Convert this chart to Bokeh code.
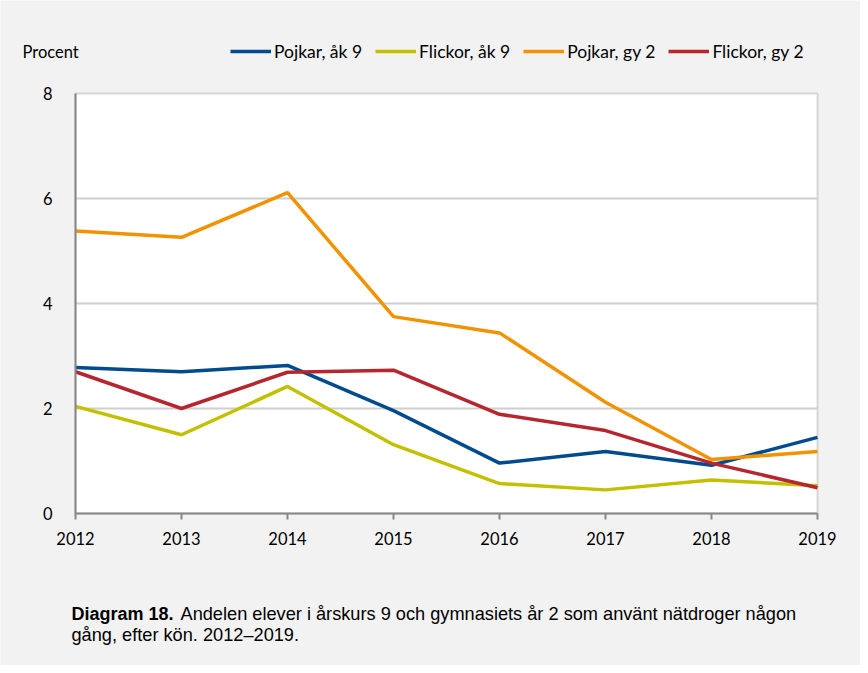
from bokeh.plotting import figure
from bokeh.models import (Legend, LegendItem, Label, FixedTicker, Range1d, BoxAnnotation,
                          Grid)
from bokeh.embed import file_html
from bokeh.resources import INLINE

years = [2012, 2013, 2014, 2015, 2016, 2017, 2018, 2019]
pojkar_ak9 = [2.78, 2.70, 2.82, 1.96, 0.96, 1.18, 0.92, 1.45]
flickor_ak9 = [2.04, 1.50, 2.42, 1.31, 0.57, 0.45, 0.64, 0.53]
pojkar_gy2 = [5.38, 5.26, 6.11, 3.75, 3.44, 2.12, 1.03, 1.18]
flickor_gy2 = [2.70, 2.00, 2.69, 2.73, 1.89, 1.58, 0.96, 0.49]
series_names = ["Pojkar, åk 9", "Flickor, åk 9", "Pojkar, gy 2", "Flickor, gy 2"]
colors = ["#004b8d", "#c3c000", "#f39200", "#b5262f"]
y_ticks = [0, 2, 4, 6, 8]
y_label = "Procent"
caption_bold = "Diagram 18."
caption_rest = "Andelen elever i årskurs 9 och gymnasiets år 2 som använt nätdroger någon"
caption_line2 = "gång, efter kön. 2012–2019."

# layout (pixels)
W, H = 860, 665
PL, PR, PT, PB = 75, 817, 93, 513      # plot-area box edges on the canvas
BG = "#f2f2f2"
FRAME_GREY = "#878787"
TICK_FONT = "Lato"
CAP_FONT = "Liberation Sans"

x0, x1 = years[0], years[-1]
y0, y1 = y_ticks[0], y_ticks[-1]
ppx = (PR - PL) / (x1 - x0)
ppy = (PB - PT) / (y1 - y0)

p = figure(width=W, height=H, output_backend="svg", toolbar_location=None,
           x_range=Range1d(x0 - PL / ppx, x1 + (W - PR) / ppx),
           y_range=Range1d(y0 - (H - PB) / ppy, y1 + PT / ppy),
           min_border=0)
p.background_fill_color = BG
p.border_fill_color = BG
p.outline_line_color = None

# white plot area with grey frame
p.add_layout(BoxAnnotation(left=x0, right=x1, bottom=y0, top=y1,
                           fill_color="white", fill_alpha=1,
                           line_color=FRAME_GREY, line_width=2, level="image"))

# axes fixed at the plot-area edges
p.xaxis.fixed_location = y0
p.yaxis.fixed_location = x0
p.xaxis.bounds = (x0, x1)
p.yaxis.bounds = (y0, y1)
p.xaxis.ticker = FixedTicker(ticks=years)
p.yaxis.ticker = FixedTicker(ticks=y_ticks)

# grid lines only inside plot area
p.xgrid.visible = False
p.ygrid.ticker = FixedTicker(ticks=y_ticks[1:-1])
p.ygrid.grid_line_color = "#cfcfcf"
p.ygrid.grid_line_width = 2
if "cross_bounds" in Grid.properties():
    p.ygrid.cross_bounds = (x0, x1)
else:
    p.ygrid.visible = False
    p.segment(x0=[x0] * 3, x1=[x1] * 3, y0=y_ticks[1:-1], y1=y_ticks[1:-1],
              line_color="#cfcfcf", line_width=2, level="underlay")

items = []
for name, vals, c in zip(series_names, [pojkar_ak9, flickor_ak9, pojkar_gy2, flickor_gy2], colors):
    r = p.line(years, vals, line_color=c, line_width=3.5)
    items.append(LegendItem(label=name, renderers=[r]))

for ax in (p.xaxis[0], p.yaxis[0]):
    ax.axis_line_color = FRAME_GREY
    ax.axis_line_width = 2
    ax.major_label_text_font = TICK_FONT
    ax.major_label_text_font_size = "16.5px"
    ax.major_label_text_color = "#000000"
    ax.minor_tick_line_color = None
p.xaxis.major_tick_line_color = FRAME_GREY
p.xaxis.major_tick_line_width = 2
p.xaxis.major_tick_out = 6
p.xaxis.major_tick_in = 0
p.xaxis.major_label_standoff = 12
p.yaxis.major_tick_line_color = None
p.yaxis.major_label_standoff = 17

legend = Legend(items=items, orientation="horizontal", location=(230, H - 62),
                glyph_width=41, glyph_height=22, label_height=22, label_standoff=3, spacing=13,
                padding=0, margin=0, border_line_alpha=0, background_fill_alpha=0,
                label_text_font=TICK_FONT, label_text_font_size="17.5px")
legend.label_text_color = "#000000"
p.add_layout(legend, "center")

p.add_layout(Label(x=22, y=H - 51, x_units="screen", y_units="screen", text=y_label,
                   text_font=TICK_FONT, text_font_size="16.5px", text_color="#000000",
                   text_baseline="alphabetic"))
p.add_layout(Label(x=71, y=H - 613, x_units="screen", y_units="screen", text=caption_bold,
                   text_font=CAP_FONT, text_font_size="18px", text_font_style="bold",
                   text_color="#000000", text_baseline="alphabetic"))
p.add_layout(Label(x=180, y=H - 613, x_units="screen", y_units="screen", text=caption_rest,
                   text_font=CAP_FONT, text_font_size="18.2px",
                   text_color="#000000", text_baseline="alphabetic"))
p.add_layout(Label(x=71, y=H - 634, x_units="screen", y_units="screen", text=caption_line2,
                   text_font=CAP_FONT, text_font_size="18.2px",
                   text_color="#000000", text_baseline="alphabetic"))

open("out.html", "w").write(file_html(p, INLINE))
